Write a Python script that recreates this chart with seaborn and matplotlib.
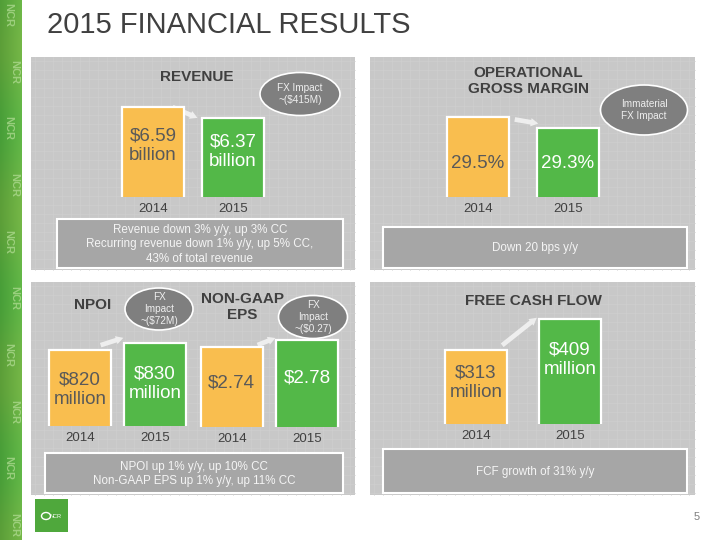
import matplotlib
matplotlib.use('Agg')
import matplotlib.pyplot as plt
import matplotlib.transforms as mtransforms
from matplotlib.patches import Rectangle, Ellipse
import seaborn as sns
import pandas as pd
import numpy as np

sns.set_theme(style='white')
plt.rcParams['font.family'] = ['Liberation Sans', 'DejaVu Sans']

# ---------------- data ----------------
years = ['2014', '2015']
revenue = [6.59, 6.37]
revenue_labels = ['$6.59\nbillion', '$6.37\nbillion']
margin = [29.5, 29.3]
margin_labels = ['29.5%', '29.3%']
npoi = [820, 830]
npoi_labels = ['$820\nmillion', '$830\nmillion']
eps = [2.74, 2.78]
eps_labels = ['$2.74', '$2.78']
fcf = [313, 409]
fcf_labels = ['$313\nmillion', '$409\nmillion']

title = '2015 FINANCIAL RESULTS'
panel_titles = ['REVENUE', 'OPERATIONAL\nGROSS MARGIN', 'NPOI', 'NON-GAAP\nEPS', 'FREE CASH FLOW']
fx_notes = ['FX Impact\n~($415M)', 'Immaterial\nFX Impact', 'FX\nImpact\n~($72M)', 'FX\nImpact\n~($0.27)']
notes = ['Revenue down 3% y/y, up 3% CC\nRecurring revenue down 1% y/y, up 5% CC,\n43% of total revenue',
         'Down 20 bps y/y',
         'NPOI up 1% y/y, up 10% CC\nNon-GAAP EPS up 1% y/y, up 11% CC',
         'FCF growth of 31% y/y']

ORANGE = '#F9BE4F'
GREEN = '#53B848'
PANEL = '#C8C8C8'
GRIDC = '#CFCFCF'
BOX = '#A6A6A6'
ELL = '#7F7F7F'
DARK = '#404040'
W, H = 720, 540

fig = plt.figure(figsize=(7.2, 5.4), dpi=100)
fig.patch.set_facecolor('white')
bg = fig.add_axes([0, 0, 1, 1])
bg.set_xlim(0, W)
bg.set_ylim(H, 0)
bg.axis('off')


def px_axes(left, top, width, height):
    return fig.add_axes([left / W, 1 - (top + height) / H, width / W, height / H])


# left decorative strip
grad = np.linspace(0, 1, 40)[None, :] * np.ones((60, 1))
rows = np.linspace(0, 1, 60)[:, None]
strip = np.zeros((60, 40, 3))
strip[..., 0] = 0.32 + 0.10 * grad + 0.04 * np.sin(rows * 20)
strip[..., 1] = 0.62 + 0.10 * grad
strip[..., 2] = 0.22 + 0.06 * grad
bg.imshow(strip, extent=[0, 22, H, 0], aspect='auto', zorder=1)
strip_words = ['NCR', 'NCR', 'NCR', 'NCR', 'NCR', 'NCR', 'NCR', 'NCR', 'NCR', 'NCR']
for k, yy in enumerate(np.linspace(15, 525, len(strip_words))):
    bg.text(8 + 6 * (k % 2), yy, strip_words[k], rotation=270, ha='center', va='center', fontsize=8,
            fontweight='bold', color='#B5DE98', alpha=0.7, zorder=2)

# title
bg.text(47, 25, title, fontsize=21, color=DARK, ha='left', va='center')

# panels
panels = [(31, 57, 355, 270), (370, 57, 695, 270), (31, 282, 355, 495), (370, 282, 695, 495)]
for (x0, y0, x1, y1) in panels:
    bg.add_patch(Rectangle((x0, y0), x1 - x0, y1 - y0, facecolor=PANEL, edgecolor='none', zorder=1))
    for gx in np.arange(x0 + 4, x1, 9):
        bg.plot([gx, gx], [y0, y1], color=GRIDC, lw=0.5, zorder=1.1)
    for gy in np.arange(y0 + 4, y1, 9):
        bg.plot([x0, x1], [gy, gy], color=GRIDC, lw=0.5, zorder=1.1)

# panel titles
title_pos = [(197, 77), (528, 81), (93, 305), (242, 307), (533, 301)]
for t, (x, y) in zip(panel_titles, title_pos):
    bg.text(x, y, t, ha='center', va='center', fontsize=11, fontweight='bold',
            color=DARK, linespacing=1.15, zorder=5)

# note boxes
box_pos = [(57, 219, 343, 268), (383, 227, 687, 268), (45, 453, 343, 493), (383, 449, 687, 493)]
for t, (x0, y0, x1, y1) in zip(notes, box_pos):
    bg.add_patch(Rectangle((x0, y0), x1 - x0, y1 - y0, facecolor=BOX, edgecolor='white',
                           lw=1.5, zorder=3))
    bg.text((x0 + x1) / 2, (y0 + y1) / 2 + 1, t, ha='center', va='center', fontsize=8.4,
            color='#F4F4F4', linespacing=1.3, zorder=4)

# FX ellipses
ell_pos = [(300, 94, 80, 43), (644, 110, 87, 50), (159, 309, 68, 42), (313, 317, 69, 43)]
for t, (cx, cy, ew, eh) in zip(fx_notes, ell_pos):
    bg.add_patch(Ellipse((cx, cy), ew, eh, facecolor=ELL, edgecolor='white', lw=1.2, zorder=5))
    bg.text(cx, cy, t, ha='center', va='center', fontsize=7.2, color='#EEEEEE',
            linespacing=1.2, zorder=6)

# arrows between bars
arrows = [((170, 106), (200, 119)), ((512, 119), (541, 124)), ((98, 346), (126, 337)),
          ((255, 346), (278, 337)), ((500, 347), (539, 316))]
for (p0, p1) in arrows:
    bg.annotate('', xy=p1, xytext=p0,
                arrowprops=dict(arrowstyle='simple,head_width=0.5,head_length=0.45,tail_width=0.28',
                                color='white', alpha=0.7, lw=0), zorder=2)


def bar_pair(vals, labels, left, spacing, top, baseline, ylim, width, label_y, label_fs=13.5):
    ax = px_axes(left, top, 2 * spacing, baseline - top)
    df = pd.DataFrame({'year': years, 'value': vals})
    sns.barplot(data=df, x='year', y='value', hue='year', palette=[ORANGE, GREEN],
                width=width, edgecolor='white', linewidth=1.6, saturation=1,
                legend=False, ax=ax)
    ax.set_xlim(-0.5, 1.5)
    ax.set_ylim(*ylim)
    ax.set_xlabel('')
    ax.set_ylabel('')
    ax.set_yticks([])
    for s in ax.spines.values():
        s.set_visible(False)
    ax.patch.set_alpha(0)
    ax.tick_params(axis='x', length=0, pad=4, labelsize=9.5, labelcolor=DARK)
    tr = mtransforms.blended_transform_factory(ax.transData, bg.transData)
    for i, (lab, ly) in enumerate(zip(labels, label_y)):
        ax.text(i, ly, lab, transform=tr, ha='center', va='center', fontsize=label_fs,
                color='#595959' if i == 0 else 'white', linespacing=1.2, zorder=5)
    return ax


bar_pair(revenue, revenue_labels, 113, 80, 100, 197, (4.79, 6.73), 0.775, [146, 151.5])
bar_pair(margin, margin_labels, 433, 90, 100, 197, (28.05, 29.81), 0.69, [163, 163])
bar_pair(npoi, npoi_labels, 42.5, 75, 320, 426, (711.4, 862.8), 0.83, [389.5, 384])
bar_pair(eps, eps_labels, 194, 75.5, 320, 427, (2.294, 2.894), 0.82, [383, 378])
bar_pair(fcf, fcf_labels, 429, 94, 310, 424, (83.8, 436.9), 0.66, [382.5, 360])

# logo
bg.add_patch(Rectangle((35, 499), 33, 33, facecolor='#4FA83C', edgecolor='none', zorder=3))
bg.add_patch(Ellipse((46, 516), 9, 7, facecolor='none', edgecolor='white', lw=1.0, zorder=4))
bg.text(56, 516, 'NCR', fontsize=4, color='white', ha='center', va='center', zorder=4)

# page number
bg.text(697, 517, '5', fontsize=8, color='#7F7F7F', ha='center', va='center')

fig.savefig('out.png', dpi=100, facecolor='white')
